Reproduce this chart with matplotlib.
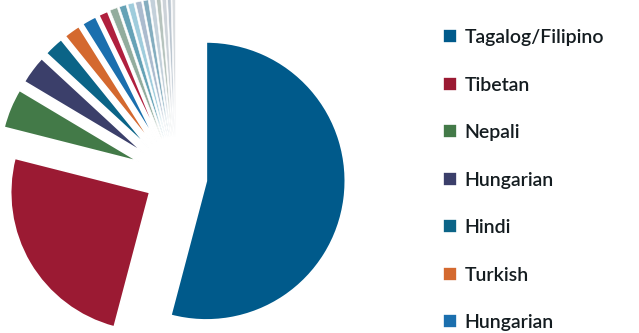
import matplotlib
matplotlib.use("Agg")
import matplotlib.pyplot as plt

categories = ["Tagalog/Filipino", "Tibetan", "Nepali", "Hungarian", "Hindi", "Turkish", "Hungarian",
              "Other 1", "Other 2", "Other 3", "Other 4", "Other 5", "Other 6", "Other 7",
              "Other 8", "Other 9", "Other 10", "Other 11"]
values = [54.0, 24.8, 4.6, 3.3, 2.3, 1.9, 1.7,
          1.1, 0.9, 0.8, 0.7, 0.7, 0.6, 0.6, 0.5, 0.5, 0.4, 0.4]
colors = ["#005a8b", "#9b1a33", "#437a48", "#3b3f6a", "#0b6487", "#d4692f", "#1b6fae",
          "#b0203e", "#7f9e8c", "#4a92aa", "#8ec3d6", "#9cb0c6", "#6f9fb4", "#b9c8d4",
          "#a9b9b2", "#c3cad2", "#b0bcc8", "#d2d6da"]
legend_count = 7

W, H = 639, 333
fig = plt.figure(figsize=(W / 100, H / 100), dpi=100)
ax = fig.add_axes([0, 0, 1, 1])

cx, cy, R = 176, 156, 139
explode = [0.22, 0.22] + [0.29] * (len(values) - 2)
wedges, _ = ax.pie(values, colors=colors, startangle=90, counterclock=False,
                   explode=explode, radius=1.0,
                   wedgeprops=dict(edgecolor="white", linewidth=1.2))
for w in wedges[8:]:
    w.set_alpha(0.85)
    w.set_linewidth(0.5)

ax.set_xlim(-cx / R, (W - cx) / R)
ax.set_ylim(-cy / R, (H - cy) / R)
ax.set_aspect("auto")
ax.axis("off")

leg = ax.legend(wedges[:legend_count], categories[:legend_count],
                loc="upper left", bbox_to_anchor=(443 / W, 1 - 29 / H),
                bbox_transform=fig.transFigure, frameon=False,
                prop=dict(family="Lato", size=14, weight="semibold"),
                handlelength=0.74, handleheight=0.74, handletextpad=0.36,
                labelspacing=1.57, borderpad=0, borderaxespad=0)
for t in leg.get_texts():
    t.set_color("#141c20")

fig.savefig("out.png", dpi=100)
